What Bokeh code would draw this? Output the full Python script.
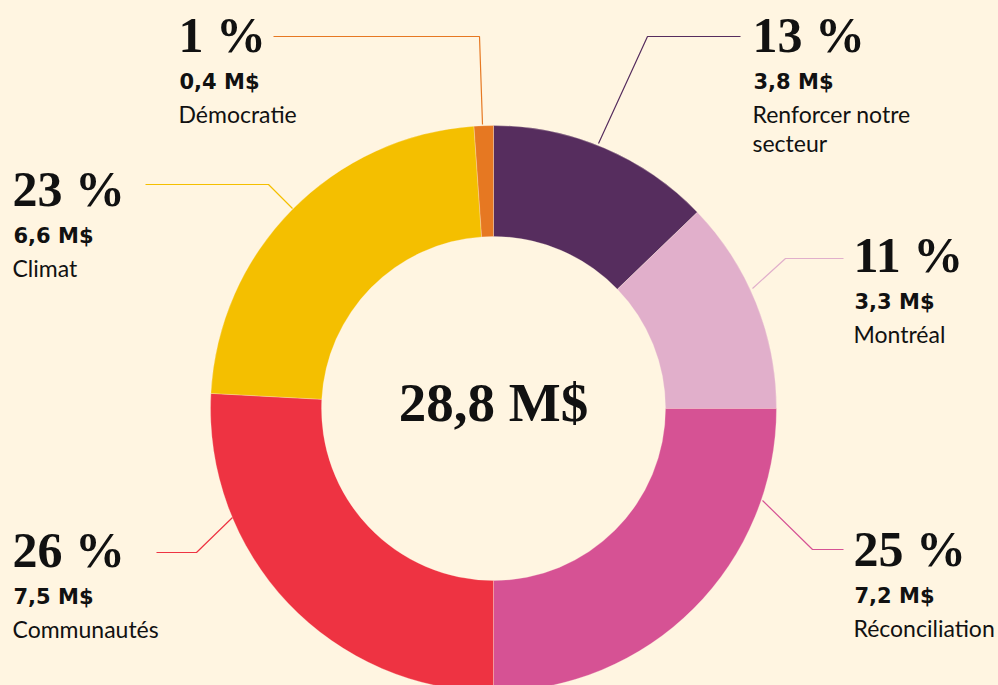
import math
from bokeh.plotting import figure
from bokeh.models import Range1d
from bokeh.core.properties import value
from bokeh.embed import file_html
from bokeh.resources import INLINE

# ---------------- data ----------------
categories = ["Renforcer notre secteur", "Montréal", "Réconciliation",
              "Communautés", "Climat", "Démocratie"]
name_lines = [["Renforcer notre", "secteur"], ["Montréal"], ["Réconciliation"],
              ["Communautés"], ["Climat"], ["Démocratie"]]
amounts = [3.8, 3.3, 7.2, 7.5, 6.6, 0.4]          # M$ (labels)
percents = [13, 11, 25, 26, 23, 1]                 # % (labels)
slice_shares = [12.8, 12.2, 25.0, 25.85, 23.05, 1.1]  # % as drawn by the arcs
colors = ["#562D5E", "#E1AFCB", "#D65294", "#EE3342", "#F4BF00", "#E67822"]

# ---------------- layout (page pixel coords) ----------------
BG = "#FFF5E1"
W, H = 998, 685
CX, CY = 493, 408
R_OUT, R_IN = 283, 172

# label anchor: (left x, baseline of big percentage)
label_pos = [(752, 53), (853, 273), (853, 567), (12, 568), (12, 207), (178, 53)]
# leader lines (pixel coords)
leaders = [
    [(598, 143), (647, 36), (740, 36)],
    [(752, 288), (785, 258), (843, 258)],
    [(762, 500), (812, 549), (843, 549)],
    [(232, 517), (196, 552), (156, 552)],
    [(292, 208), (268, 184), (145, 184)],
    [(482, 124), (479, 36), (273, 36)],
]

BIG_FS, AMT_FS, NAME_FS, CTR_FS = 50, 21, 23, 55
SHIFT = 0.38  # renderer baseline correction, in em


def Y(py):
    return H - py


p = figure(width=W, height=H, x_range=Range1d(0, W), y_range=Range1d(0, H),
           output_backend="svg", toolbar_location=None, min_border=0,
           x_axis_type=None, y_axis_type=None,
           background_fill_color=BG, border_fill_color=BG, outline_line_color=None)
p.grid.visible = False

total_share = sum(slice_shares)
starts, ends = [], []
cum = 0.0
for s in slice_shares:
    starts.append(math.pi / 2 - 2 * math.pi * cum / total_share)
    cum += s
    ends.append(math.pi / 2 - 2 * math.pi * cum / total_share)

p.annular_wedge(x=CX, y=Y(CY), inner_radius=R_IN, outer_radius=R_OUT,
                start_angle=starts, end_angle=ends, direction="clock",
                fill_color=colors, line_color="#FFF5E1", line_alpha=0.35, line_width=0.8)

# leader lines
for pts, c in zip(leaders, colors):
    p.line([q[0] for q in pts], [Y(q[1]) for q in pts], line_color=c, line_width=1.2)

# labels
SERIF = value("Liberation Serif")
px_, py_, pt_ = [], [], []
ax_, ay_, at_ = [], [], []
nx_, ny_, nt_ = [], [], []
for (lx, by), pc, a, lines in zip(label_pos, percents, amounts, name_lines):
    px_.append(lx); py_.append(Y(by - SHIFT * BIG_FS)); pt_.append(f"{pc} %")
    ax_.append(lx + 1); ay_.append(Y(by + 36 - SHIFT * AMT_FS))
    at_.append(f"{a:.1f}".replace(".", ",") + " M$")
    for i, ln in enumerate(lines):
        nx_.append(lx); ny_.append(Y(by + 69 + 29 * i - SHIFT * NAME_FS)); nt_.append(ln)

p.text(px_, py_, text=pt_, text_font=SERIF, text_font_style="bold", text_font_size=f"{BIG_FS}px",
       text_color="#111111", text_baseline="alphabetic", text_align="left")
p.text(ax_, ay_, text=at_, text_font=value("DejaVu Sans"), text_font_style="bold",
       text_font_size=f"{AMT_FS}px", text_color="#111111", text_baseline="alphabetic", text_align="left")
p.text(nx_, ny_, text=nt_, text_font=value("Lato"), text_font_size=f"{NAME_FS}px",
       text_color="#111111", text_baseline="alphabetic", text_align="left")

total_label = f"{sum(amounts):.1f}".replace(".", ",") + " M$"
p.text([CX], [Y(423 - SHIFT * CTR_FS)], text=[total_label], text_font=SERIF, text_font_style="bold",
       text_font_size=f"{CTR_FS}px", text_color="#111111", text_baseline="alphabetic", text_align="center")

html = file_html(p, INLINE, title="Répartition")
html = html.replace("<head>", "<head><style>html,body{background:%s;}</style>" % BG, 1)
open("out.html", "w").write(html)
